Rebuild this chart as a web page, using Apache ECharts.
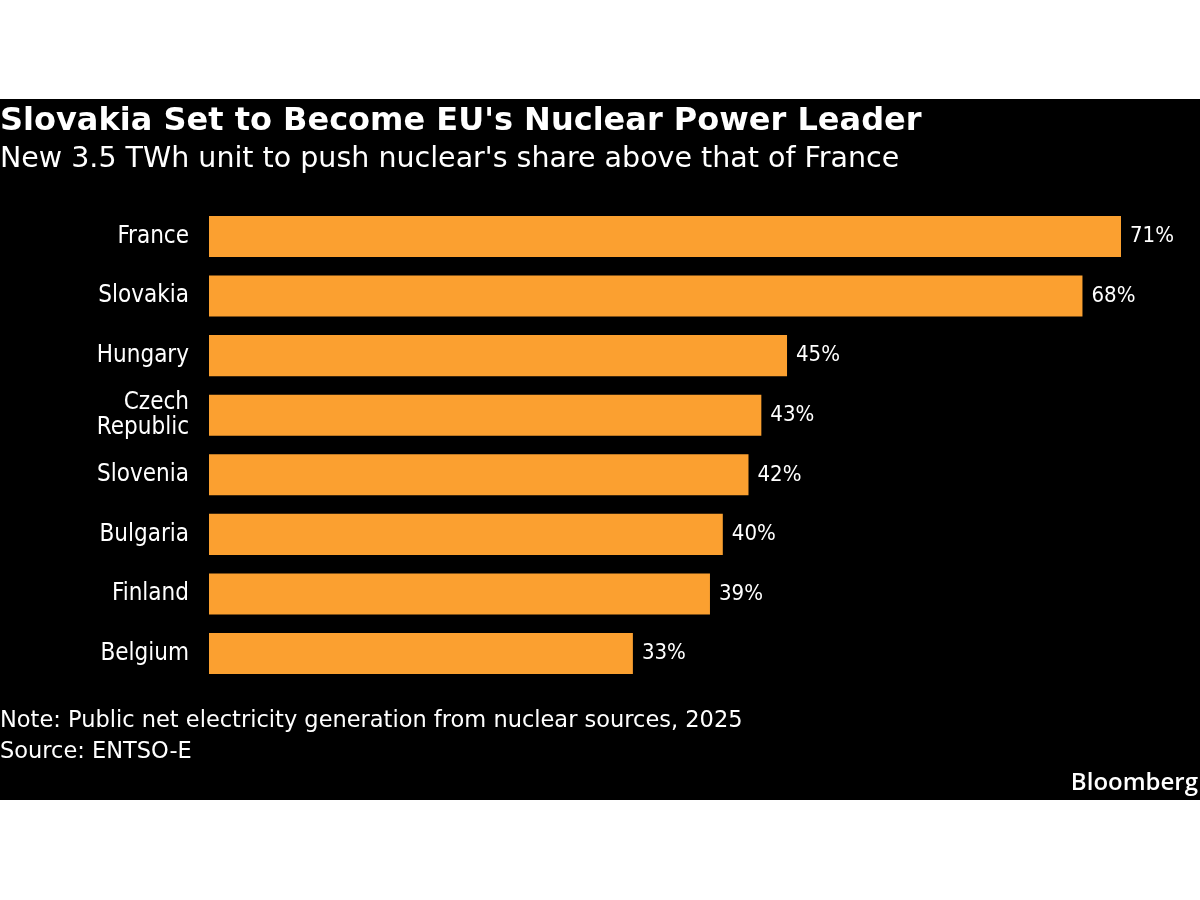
<!DOCTYPE html>
<html>
<head>
<meta charset="utf-8">
<script src="https://cdn.jsdelivr.net/npm/echarts@6/dist/echarts.min.js"></script>
<style>
  html, body { margin: 0; padding: 0; background: #fff; }
  #main { width: 1200px; height: 900px; }
</style>
</head>
<body>
<div id="main"></div>
<script>
// data
var countries = ["France", "Slovakia", "Hungary", "Czech\nRepublic", "Slovenia", "Bulgaria", "Finland", "Belgium"];
var shares = [71, 68, 45, 43, 42, 40, 39, 33];

var WIDE = "DejaVu Sans";
var COND = "DejaVu Sans Condensed";
var chart = echarts.init(document.getElementById("main"));

var options = {
    backgroundColor: "#fff",
    animation: false,
    title: [
        {
            text: "Slovakia Set to Become EU's Nuclear Power Leader",
            left: 0,
            top: 106,
            padding: 0,
            textStyle: { color: "#fff", fontFamily: WIDE, fontWeight: "bold", fontSize: 32 }
        },
        {
            text: "New 3.5 TWh unit to push nuclear's share above that of France",
            left: 0,
            top: 145,
            padding: 0,
            textStyle: { color: "#fff", fontFamily: WIDE, fontWeight: "normal", fontSize: 28.5 }
        }
    ],
    graphic: [
        // black panel behind everything
        { type: "rect", z: -10, silent: true, shape: { x: 0, y: 99, width: 1200, height: 701 }, style: { fill: "#000" } },
        { type: "text", left: 0, top: 710, style: { text: "Note: Public net electricity generation from nuclear sources, 2025", fill: "#fff", font: "22.5px '" + WIDE + "'" } },
        { type: "text", left: 0, top: 741, style: { text: "Source: ENTSO-E", fill: "#fff", font: "22.5px '" + WIDE + "'" } },
        { type: "text", right: 2, top: 771, style: { text: "Bloomberg", fill: "#fff", font: "600 24px 'Open Sans'" } }
    ],
    grid: { left: 209, right: 79, top: 206.7, bottom: 216.7, containLabel: false },
    xAxis: {
        type: "value",
        min: 0,
        max: "dataMax",
        show: false
    },
    yAxis: {
        type: "category",
        inverse: true,
        data: countries,
        axisLine: { show: false },
        axisTick: { show: false },
        splitLine: { show: false },
        axisLabel: {
            color: "#fff",
            fontFamily: COND,
            fontSize: 24,
            lineHeight: 25,
            margin: 20,
            align: "right"
        }
    },
    series: [{
        type: "bar",
        data: shares,
        barCategoryGap: "31%",
        itemStyle: { color: "#FBA030" },
        label: {
            show: true,
            position: "right",
            distance: 9,
            color: "#fff",
            fontFamily: COND,
            fontSize: 22,
            formatter: function (p) { return p.value + "%"; }
        }
    }]
};

chart.setOption(options);
</script>
</body>
</html>
